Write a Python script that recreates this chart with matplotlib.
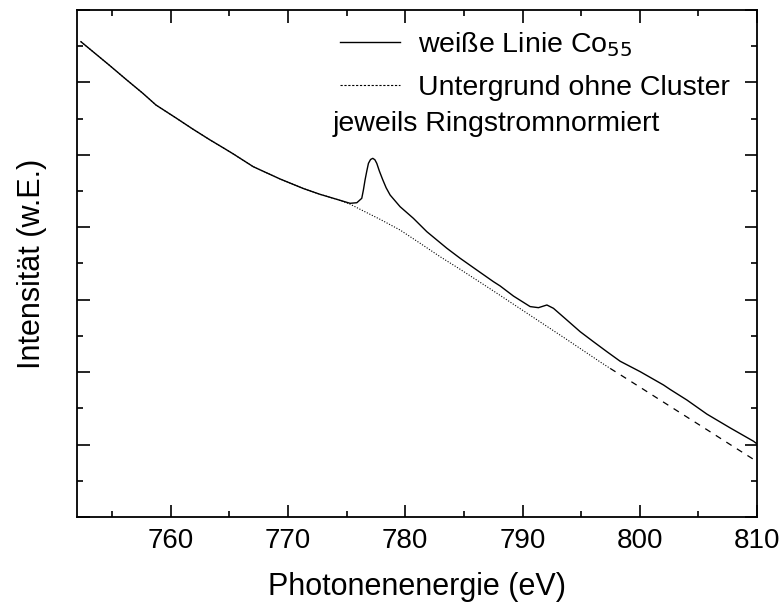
import numpy as np
import matplotlib.pyplot as plt
from matplotlib.ticker import MultipleLocator, NullFormatter

plt.rcParams['font.family'] = ['Liberation Sans', 'DejaVu Sans']

# weisse Linie Co55 (arb. units)
co_e = [752.34, 754.76, 756.18, 757.61, 758.74, 760.45, 761.87, 763.29, 764.57,
        765.34, 767.04, 769.32, 771.31, 772.73, 774.16, 775.29, 775.87, 776.29,
        776.43, 776.57, 776.72, 776.86, 777.04, 777.23, 777.41, 777.57, 777.79,
        778.07, 778.37, 778.71, 779.56, 780.69, 781.84,
        783.55, 784.68, 786.10, 787.52, 788.09, 789.23, 790.65, 791.36, 792.08,
        792.64, 793.78, 794.92, 796.05, 797.20, 798.33, 800.04, 802.03, 802.60,
        804.02, 805.73, 807.71, 809.71, 809.95]
co_y = [6.562, 6.238, 6.043, 5.851, 5.688, 5.509, 5.357, 5.212, 5.088,
        5.012, 4.836, 4.667, 4.535, 4.455, 4.386, 4.331, 4.339, 4.400,
        4.515, 4.653, 4.777, 4.883, 4.936, 4.952, 4.932, 4.883, 4.777,
        4.660, 4.545, 4.445, 4.284, 4.124, 3.939,
        3.710, 3.572, 3.410, 3.249, 3.190, 3.050, 2.905, 2.890, 2.927,
        2.881, 2.720, 2.558, 2.420, 2.282, 2.150, 2.006, 1.822, 1.760,
        1.615, 1.420, 1.230, 1.045, 1.015]

# Untergrund ohne Cluster (gemessen)
bg_e = [752.34, 754.76, 756.18, 757.61, 758.74, 760.45, 761.87, 763.29, 764.57,
        765.34, 767.04, 769.32, 771.31, 772.73, 774.16, 775.29, 776.15, 777.85,
        779.56, 781.27, 782.97, 784.68, 786.39, 788.09, 789.23, 790.93, 793.78,
        796.63, 797.48]
bg_y = [6.562, 6.238, 6.043, 5.851, 5.688, 5.509, 5.357, 5.212, 5.088,
        5.012, 4.836, 4.667, 4.535, 4.455, 4.386, 4.320, 4.248, 4.110,
        3.962, 3.779, 3.594, 3.420, 3.240, 3.060, 2.937, 2.755, 2.450,
        2.140, 2.051]

# Untergrund extrapoliert
ext_e = [797.48, 798.33, 800.04, 802.03, 803.73, 805.73, 807.71, 809.71, 810.0]
ext_y = [2.051, 1.965, 1.790, 1.585, 1.410, 1.205, 1.000, 0.795, 0.766]

fig = plt.figure(figsize=(7.83, 6.10), dpi=100)
ax = fig.add_axes([0.0983, 0.1525, 0.8685, 0.8311])

l1, = ax.plot(co_e, co_y, color='black', lw=1.0)
l2, = ax.plot(bg_e, bg_y, color='black', lw=0.8, linestyle=(0, (1, 1.5)))
ax.plot(ext_e, ext_y, color='black', lw=0.9, linestyle=(0, (5, 5)))

ax.set_xlim(752, 810)
ax.set_ylim(0, 7)
ax.xaxis.set_major_locator(MultipleLocator(10))
ax.xaxis.set_minor_locator(MultipleLocator(5))
ax.yaxis.set_major_locator(MultipleLocator(1))
ax.yaxis.set_minor_locator(MultipleLocator(0.5))
ax.yaxis.set_major_formatter(NullFormatter())
ax.tick_params(which='both', direction='in', top=True, right=True, width=1.2)
ax.tick_params(which='major', length=9)
ax.tick_params(which='minor', length=4.5)
ax.tick_params(axis='x', labelsize=20, pad=8)
for s in ax.spines.values():
    s.set_linewidth(1.3)

ax.set_xlabel('Photonenenergie (eV)', fontsize=22, labelpad=13)
ax.set_ylabel('Intensität (w.E.)', fontsize=22, labelpad=18)

leg_line = plt.Line2D([], [], color='black', lw=0.8, linestyle=(0, (2, 1.5)))
ax.legend([l1, leg_line], ['weiße Linie Co$_{55}$', 'Untergrund ohne Cluster'],
          loc='upper left', bbox_to_anchor=(0.387, 0.961), frameon=False,
          borderpad=0, borderaxespad=0,
          fontsize=20.5, handlelength=2.1, handletextpad=0.63, labelspacing=0.56)
ax.text(0.3765, 0.775, 'jeweils Ringstromnormiert', transform=ax.transAxes,
        fontsize=20.5, va='center', ha='left')

fig.savefig('out.png', dpi=100)
